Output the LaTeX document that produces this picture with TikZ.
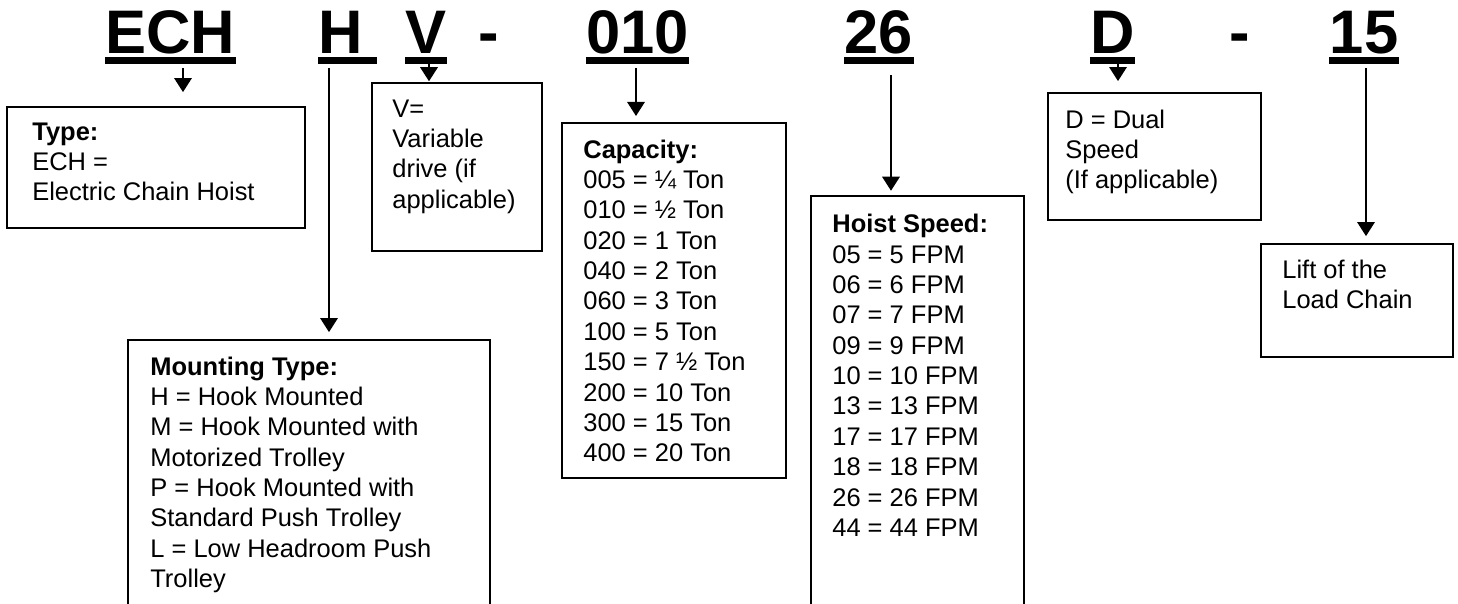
\documentclass[tikz,border=0pt]{standalone}
\usepackage{fontspec}
\setmainfont{Liberation Sans}
\usetikzlibrary{arrows.meta}

\newcommand{\pxu}{0.02cm}
\newcommand{\codelines}[1]{\begin{tabular}[t]{@{}l@{}}#1\end{tabular}}
\tikzset{
  codepart/.style={font=\fontsize{35}{40}\selectfont\bfseries, inner sep=0pt, anchor=base},
  uline/.style={line width=4pt},
  codebox/.style={draw, line width=1pt, anchor=north west, inner sep=0pt, outer sep=0pt},
  boxtext/.style={font=\fontsize{14.5}{17.3}\selectfont, inner sep=0pt, anchor=base west},
  codearrow/.style={line width=0.9pt, -{Triangle[width=10pt,length=8pt]}},
}

\begin{document}
\begin{tikzpicture}[x=0.02cm, y=-0.02cm]
    \useasboundingbox (0,0) rectangle (1458,603);

    % model code parts
    \node[codepart] (ech)    at (170.5,53) {ECH};
    \node[codepart] (hcode)  at (341,53)   {H};
    \node[codepart] (vcode)  at (426,53)   {V};
    \node[codepart] (dash1)  at (489,53)   {-};
    \node[codepart] (cap010) at (637.5,53) {010};
    \node[codepart] (spd26)  at (879,53)   {26};
    \node[codepart] (dcode)  at (1112.5,53) {D};
    \node[codepart] (dash2)  at (1240,53)  {-};
    \node[codepart] (lift15) at (1364,53)  {15};

    \draw[uline] ([yshift=-4.3pt]ech.base west) -- ([yshift=-4.3pt]ech.base east);
    \draw[uline] ([yshift=-4.3pt]hcode.base west) -- ([shift={(13,0)},yshift=-4.3pt]hcode.base east);
    \draw[uline] ([yshift=-4.3pt]vcode.base west) -- ([yshift=-4.3pt]vcode.base east);
    \draw[uline] ([yshift=-4.3pt]cap010.base west) -- ([yshift=-4.3pt]cap010.base east);
    \draw[uline] ([yshift=-4.3pt]spd26.base west) -- ([yshift=-4.3pt]spd26.base east);
    \draw[uline] ([yshift=-4.3pt]dcode.base west) -- ([yshift=-4.3pt]dcode.base east);
    \draw[uline] ([yshift=-4.3pt]lift15.base west) -- ([yshift=-4.3pt]lift15.base east);

    % boxes
    \node[codebox, minimum width=298*\pxu, minimum height=121*\pxu] (typebox)  at (7,107)   {};
    \node[codebox, minimum width=362*\pxu, minimum height=290*\pxu] (mountbox) at (128,340) {};
    \node[codebox, minimum width=170*\pxu, minimum height=168*\pxu] (vbox)     at (372,83)  {};
    \node[codebox, minimum width=224*\pxu, minimum height=355*\pxu] (capbox)   at (562,123) {};
    \node[codebox, minimum width=213*\pxu, minimum height=430*\pxu] (hoistbox) at (811,196) {};
    \node[codebox, minimum width=213*\pxu, minimum height=127*\pxu] (dbox)     at (1048,93) {};
    \node[codebox, minimum width=192*\pxu, minimum height=113*\pxu] (liftbox)  at (1261,244) {};

    \node[boxtext] at ([shift={(25,33)}]typebox.north west)
        {\codelines{\textbf{Type:}\\ECH =\\Electric Chain Hoist}};
    \node[boxtext] at ([shift={(22,35)}]mountbox.north west)
        {\codelines{\textbf{Mounting Type:}\\H = Hook Mounted\\M = Hook Mounted with\\Motorized Trolley\\P = Hook Mounted with\\Standard Push Trolley\\L = Low Headroom Push\\Trolley}};
    \node[boxtext] at ([shift={(20,34)}]vbox.north west)
        {\codelines{V=\\Variable\\drive (if\\applicable)}};
    \node[boxtext] at ([shift={(21,35)}]capbox.north west)
        {\codelines{\textbf{Capacity:}\\005 = ¼ Ton\\010 = ½ Ton\\020 = 1 Ton\\040 = 2 Ton\\060 = 3 Ton\\100 = 5 Ton\\150 = 7 ½ Ton\\200 = 10 Ton\\300 = 15 Ton\\400 = 20 Ton}};
    \node[boxtext] at ([shift={(21,36.6)}]hoistbox.north west)
        {\codelines{\textbf{Hoist Speed:}\\05 = 5 FPM\\06 = 6 FPM\\07 = 7 FPM\\09 = 9 FPM\\10 = 10 FPM\\13 = 13 FPM\\17 = 17 FPM\\18 = 18 FPM\\26 = 26 FPM\\44 = 44 FPM}};
    \node[boxtext] at ([shift={(17,35)}]dbox.north west)
        {\codelines{D = Dual\\Speed\\(If applicable)}};
    \node[boxtext] at ([shift={(21,34)}]liftbox.north west)
        {\codelines{Lift of the\\Load Chain}};

    % arrows
    \draw[codearrow, shorten >=8.5pt] ([shift={(12.5,15)}]ech.base) coordinate (echfoot) -- (echfoot |- typebox.north);
    \draw[codearrow, shorten >=4.5pt] ([shift={(-12,15)}]hcode.base) coordinate (hfoot) -- (hfoot |- mountbox.north);
    \draw[codearrow, shorten >=1pt] ([shift={(3,11)}]vcode.base) coordinate (vfoot) -- (vfoot |- vbox.north);
    \draw[codearrow, shorten >=4pt] ([shift={(-1.5,15)}]cap010.base) coordinate (capfoot) -- (capfoot |- capbox.north);
    \draw[codearrow, shorten >=3pt] ([shift={(12,22)}]spd26.base) coordinate (spdfoot) -- (spdfoot |- hoistbox.north);
    \draw[codearrow, shorten >=6.8pt] ([shift={(5.5,11)}]dcode.base) coordinate (dfoot) -- (dfoot |- dbox.north);
    \draw[codearrow, shorten >=4.5pt] ([shift={(2,15)}]lift15.base) coordinate (liftfoot) -- (liftfoot |- liftbox.north);
\end{tikzpicture}
\end{document}
